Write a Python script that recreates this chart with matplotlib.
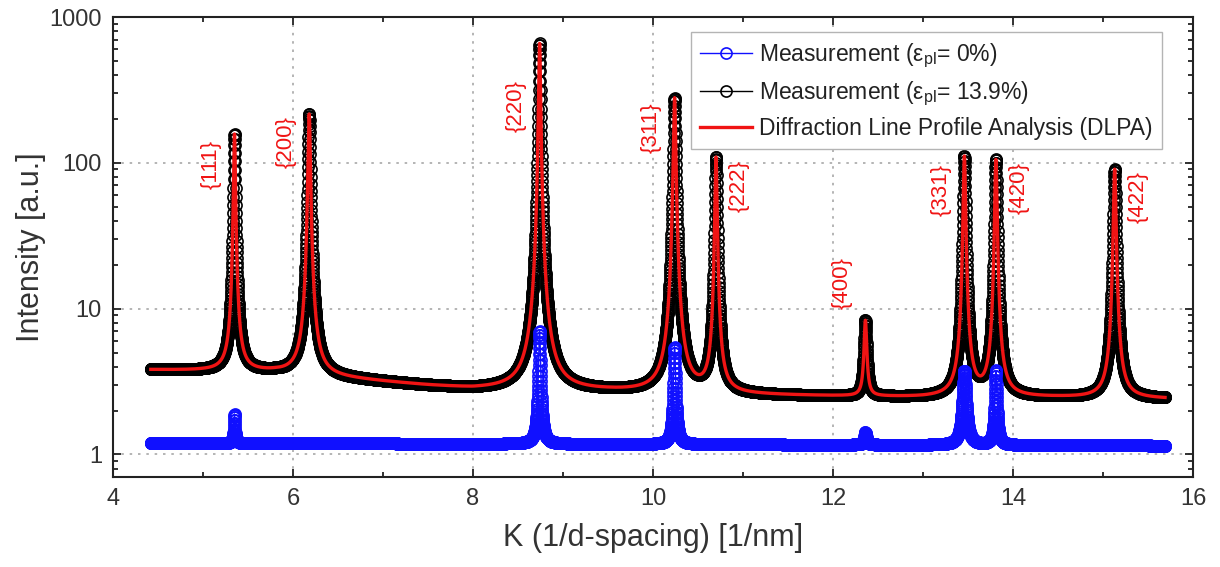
import numpy as np
import matplotlib
matplotlib.use("Agg")
import matplotlib.pyplot as plt
from matplotlib.ticker import MultipleLocator, LogLocator, FixedLocator, FixedFormatter, NullFormatter

plt.rcParams['font.family'] = ['Liberation Sans', 'DejaVu Sans']
plt.rcParams['mathtext.fontset'] = 'custom'
plt.rcParams['mathtext.rm'] = 'Liberation Sans'
plt.rcParams['mathtext.it'] = 'Liberation Sans:italic'

# Reflections of the fcc phase: positions K [1/nm]
hkl = ['{111}', '{200}', '{220}', '{311}', '{222}', '{400}', '{331}', '{420}', '{422}']
peak_K = [5.35, 6.18, 8.74, 10.24, 10.70, 12.36, 13.46, 13.81, 15.13]

# Deformed sample (eps_pl = 13.9 %): peak amplitudes above background and half widths
amp_deformed = [154, 213, 657, 277, 107, 5.8, 109, 103, 88]
hw_deformed = [0.010, 0.012, 0.010, 0.012, 0.011, 0.015, 0.012, 0.012, 0.013]

# Background of the deformed sample
bg_K_deformed = [4.42, 5.0, 5.8, 6.6, 7.5, 8.0, 9.5, 11.0, 12.0, 13.0, 14.5, 15.69]
bg_I_deformed = [3.8, 3.75, 3.65, 3.3, 2.95, 2.8, 2.7, 2.55, 2.5, 2.45, 2.45, 2.4]

# Undeformed sample (eps_pl = 0 %): strongly textured, only some reflections visible
amp_undeformed = [0.7, 0.0, 5.8, 4.3, 0.0, 0.25, 2.6, 2.6, 0.0]
hw_undeformed = [0.008, 0.01, 0.012, 0.012, 0.01, 0.015, 0.02, 0.012, 0.01]
bg_K_undeformed = [4.42, 15.69]
bg_I_undeformed = [1.20, 1.15]

# Measured K range and step
K_start, K_stop, K_step = 4.42, 15.69, 0.0015

# Label placement: side of the peak and height relative to the peak maximum
label_side = [-1, -1, -1, -1, 1, -1, -1, 1, 1]
label_rel_height = [0.62, 0.64, 0.37, 0.62, 0.63, 1.8, 0.58, 0.64, 0.64]


def profile(K, bg_K, bg_I, centers, amps, widths):
    I = np.exp(np.interp(K, bg_K, np.log(bg_I)))
    for c, a, w in zip(centers, amps, widths):
        I = I + a / (1.0 + ((K - c) / w) ** 2)
    return I


K = np.arange(K_start, K_stop + 1e-9, K_step)
I_def = profile(K, bg_K_deformed, bg_I_deformed, peak_K, amp_deformed, hw_deformed)
I_undef = profile(K, bg_K_undeformed, bg_I_undeformed, peak_K, amp_undeformed, hw_undeformed)
I_fit = I_def

fig = plt.figure(figsize=(12.2, 5.67), dpi=100)
ax = fig.add_axes([113 / 1220, 1 - 477 / 567, 1080 / 1220, 460 / 567])

ax.plot(K, I_undef, '-o', color='#1010ff', mfc='none', mec='#1010ff', ms=8, mew=1.2, lw=1.0,
        label=r'Measurement (ε$_{\rm pl}$= 0%)', zorder=3)
ax.plot(K, I_def, '-o', color='black', mfc='none', mec='black', ms=8, mew=1.2, lw=1.0,
        label=r'Measurement (ε$_{\rm pl}$= 13.9%)', zorder=2)
ax.plot(K, I_fit, '-', color='#f01414', lw=2.4,
        label='Diffraction Line Profile Analysis (DLPA)', zorder=4)

# Peak labels
for name, kc, side, rel in zip(hkl, peak_K, label_side, label_rel_height):
    top = profile(np.array([kc]), bg_K_deformed, bg_I_deformed, peak_K, amp_deformed, hw_deformed)[0]
    ax.text(kc + side * 0.26, top * rel, name, color='#f01414', fontsize=16,
            rotation=90, ha='center', va='center', zorder=5)

ax.set_xlim(4, 16)
ax.set_yscale('log')
ax.set_ylim(0.7, 1000)

ax.xaxis.set_major_locator(MultipleLocator(2))
ax.xaxis.set_minor_locator(MultipleLocator(1))
ax.yaxis.set_major_locator(FixedLocator([1, 10, 100, 1000]))
ax.yaxis.set_major_formatter(FixedFormatter(['1', '10', '100', '1000']))
ax.yaxis.set_minor_locator(LogLocator(base=10, subs=np.arange(2, 10)))
ax.yaxis.set_minor_formatter(NullFormatter())

ax.tick_params(which='both', direction='in', top=True, right=True, width=1.3, colors='#222222',
               labelcolor='#333333')
ax.tick_params(which='major', length=6, labelsize=17, pad=8)
ax.tick_params(which='minor', length=3.5)
for s in ax.spines.values():
    s.set_linewidth(1.5)
    s.set_color('#222222')

ax.grid(True, which='major', linestyle=(0, (1.5, 3.5)), color='#a8a8a8', linewidth=1.2)

ax.set_xlabel('K (1/d-spacing) [1/nm]', fontsize=22, color='#333333')
ax.set_ylabel('Intensity [a.u.]', fontsize=22, color='#333333')
ax.xaxis.set_label_coords(0.5, -0.1)
ax.yaxis.set_label_coords(-0.062, 0.5)

leg = ax.legend(loc='upper right', bbox_to_anchor=(1 - 31 / 1080, 1 - 15 / 460), borderaxespad=0,
                fancybox=False, framealpha=1, edgecolor='#b4b4b4', fontsize=16.5,
                handlelength=2.3, numpoints=1, labelspacing=0.42, borderpad=0.4,
                handletextpad=0.3)
leg.get_frame().set_linewidth(1.0)
for t in leg.get_texts():
    t.set_color('#222222')

fig.savefig('out.png', dpi=100)
